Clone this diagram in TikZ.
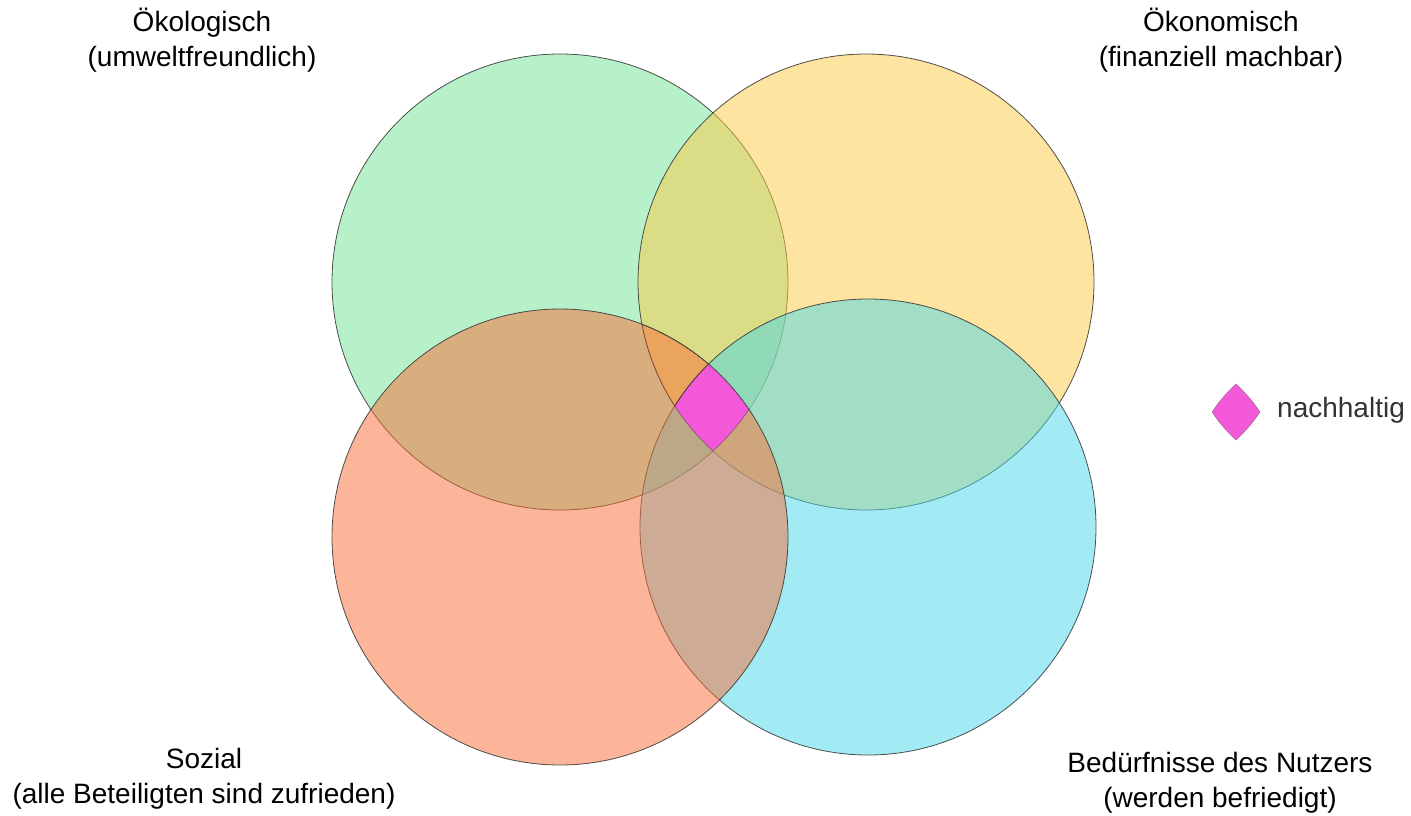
\documentclass[tikz,border=0pt]{standalone}
\usepackage{fontspec}
\setmainfont{Liberation Sans}
\definecolor{cgreen}{RGB}{113,229,151}
\definecolor{cyellow}{RGB}{253,203,67}
\definecolor{csalmon}{RGB}{251,109,53}
\definecolor{ccyan}{RGB}{71,217,235}
\definecolor{cmag}{RGB}{242,88,216}
\definecolor{cline}{RGB}{60,60,60}
\begin{document}
\begin{tikzpicture}[x=1pt,y=-1pt,
  setcircle/.style={fill=#1,fill opacity=0.5,draw=cline,draw opacity=0.9,line width=0.8pt},
  label/.style={font=\fontsize{28}{35}\selectfont,align=center,inner sep=0pt,text=black}]
\useasboundingbox (0,0) rectangle (1411,815);
\fill[white] (0,0) rectangle (1411,815);
\coordinate (G) at (560,282);
\coordinate (Y) at (866,282);
\coordinate (S) at (560,537);
\coordinate (C) at (868,527);
\def\R{228}
\path[setcircle=cgreen] (G) circle (\R);
\path[setcircle=cyellow] (Y) circle (\R);
\path[setcircle=ccyan] (C) circle (\R);
\path[setcircle=csalmon] (S) circle (\R);
\begin{scope}
  \clip (G) circle (\R);
  \clip (Y) circle (\R);
  \clip (S) circle (\R);
  \fill[cmag] (C) circle (\R);
  \draw[cline,line width=0.8pt,opacity=0.6] (G) circle (\R);
  \draw[cline,line width=0.8pt,opacity=0.6] (Y) circle (\R);
  \draw[cline,line width=0.8pt] (S) circle (\R);
  \draw[cline,line width=0.8pt] (C) circle (\R);
\end{scope}
% legend
\coordinate (d1) at (1236,384);
\coordinate (d2) at (1260,412);
\coordinate (d3) at (1236,440);
\coordinate (d4) at (1212,412);
\draw[fill=cmag,draw=cline,draw opacity=0.4,line width=0.6pt]
  (d1) to[bend left=6] (d2) to[bend left=6] (d3) to[bend left=6] (d4) to[bend left=6] (d1) -- cycle;
\node[label,anchor=west,text={rgb,255:red,51;green,51;blue,51}] (leg) at (1277,410) {nachhaltig};
\node[label] (oek) at (202,40) {Ökologisch\\(umweltfreundlich)};
\node[label] (oeko) at (1221,40) {Ökonomisch\\(finanziell machbar)};
\node[label] (soz) at (204,779) {Sozial\\(alle Beteiligten sind zufrieden)};
\node[label] (bed) at (1220,783) {Bedürfnisse des Nutzers\\(werden befriedigt)};
\end{tikzpicture}
\end{document}
